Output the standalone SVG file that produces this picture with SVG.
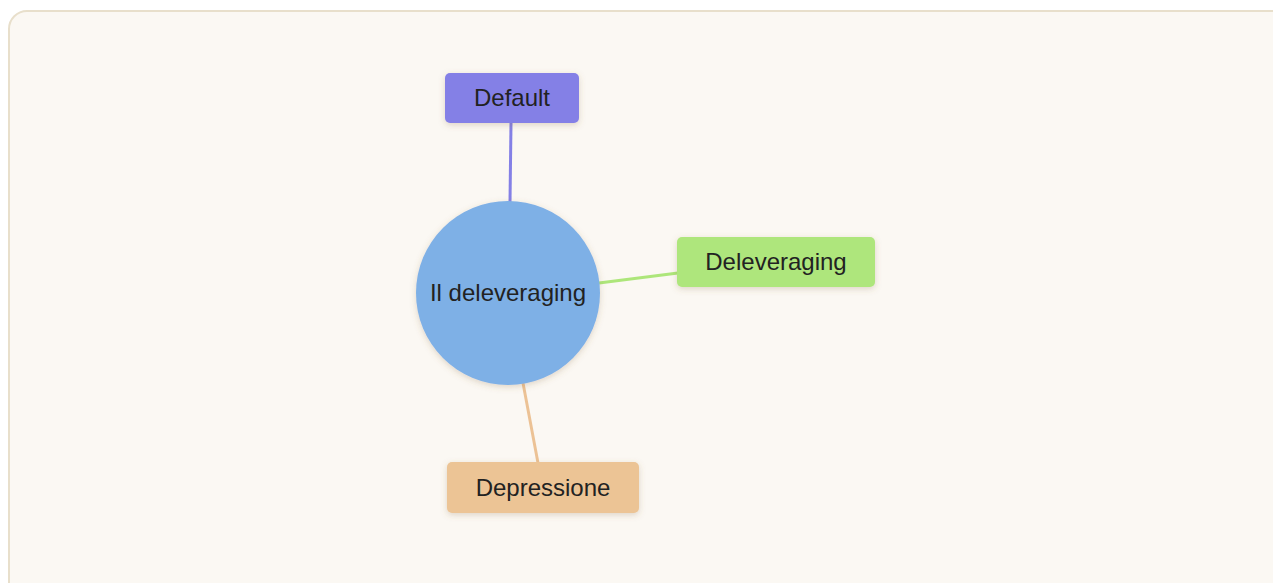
<svg xmlns="http://www.w3.org/2000/svg" width="1273" height="583" viewBox="0 0 1273 583">
<defs>
<style>
.lbl{font-family:"Liberation Sans",Arial,sans-serif;font-size:24px;fill:#222222;text-anchor:middle;dominant-baseline:central}
.edge{stroke-width:3;fill:none}
</style>
<filter id="sh" x="-20%" y="-20%" width="140%" height="150%">
<feDropShadow dx="0" dy="2" stdDeviation="3" flood-color="#8a6a40" flood-opacity="0.25"/>
</filter>
</defs>
<rect width="1273" height="583" fill="#ffffff"/>
<rect x="9" y="11" width="1290" height="590" rx="18" fill="#fbf8f3" stroke="#e8dfcb" stroke-width="2"/>
<g id="connectors">
<line class="edge" x1="511" y1="123" x2="510" y2="202" stroke="#8480e6"/>
<line class="edge" x1="599" y1="283" x2="678" y2="273" stroke="#ade67a"/>
<line class="edge" x1="523" y1="383" x2="538" y2="463" stroke="#ecc295"/>
</g>
<g id="center">
<circle cx="508" cy="293" r="92" fill="#7eb0e6" filter="url(#sh)"/>
<text class="lbl" x="508" y="292">Il deleveraging</text>
</g>
<g id="default">
<rect x="445" y="73" width="134" height="50" rx="5" fill="#8480e6" filter="url(#sh)"/>
<text class="lbl" x="512" y="97">Default</text>
</g>
<g id="deleveraging">
<rect x="677" y="237" width="198" height="50" rx="5" fill="#aee67c" filter="url(#sh)"/>
<text class="lbl" x="776" y="261">Deleveraging</text>
</g>
<g id="depressione">
<rect x="447" y="462" width="192" height="51" rx="5" fill="#ecc495" filter="url(#sh)"/>
<text class="lbl" x="543" y="487">Depressione</text>
</g>
</svg>
